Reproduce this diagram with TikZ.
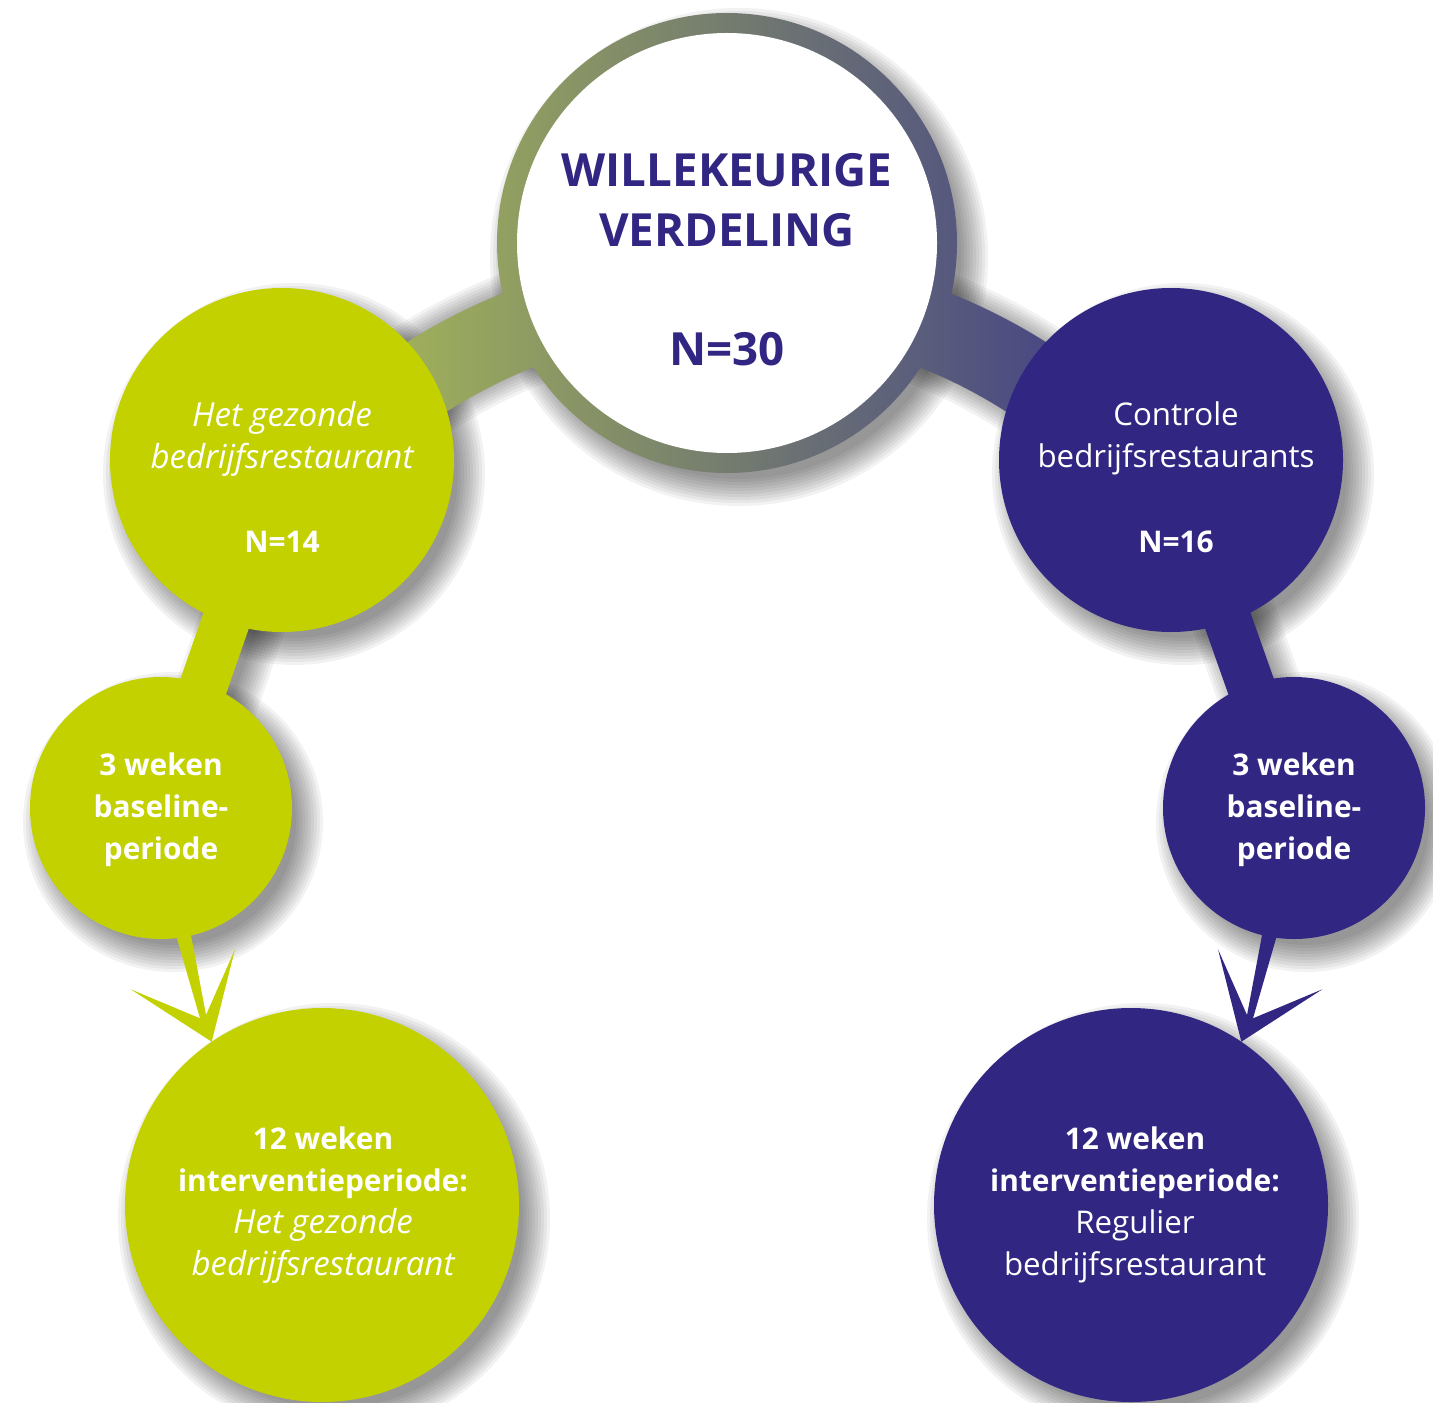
\documentclass[tikz,border=0pt]{standalone}
\usepackage{fontspec}
\setmainfont{Open Sans}
\usetikzlibrary{calc}
\definecolor{lime}{HTML}{C3D100}
\definecolor{indigo}{HTML}{312783}
\definecolor{ringL}{HTML}{B1C552}
\definecolor{ringR}{HTML}{37338C}
\newcommand\bigtxt{\fontsize{13}{17}\selectfont\bfseries}
\newcommand\rmtxt{\fontsize{8.9}{12}\selectfont}
\newcommand\bftxt{\fontsize{8.5}{12}\selectfont\bfseries}
\newcommand\ittxt{\fontsize{9.4}{12}\selectfont\itshape}
\begin{document}
\begin{tikzpicture}[
  disc/.style={circle, inner sep=0pt, minimum size=#1},
  label text/.style={align=center, inner sep=0pt, text=white, font=\rmtxt},
  shadowfill/.style={black, opacity=0.05},
]
\useasboundingbox (0,0) rectangle (14.33,14.02);

% centre of the large arc that carries the two upper bands
\coordinate (bc) at (7.265,5.52);

% soft drop shadows under all shapes, cast to the lower right
\begin{scope}[shift={(0.12,-0.14)}]
  \foreach \s in {-0.08,-0.05,-0.02,0.01,0.04,0.07,0.10,0.13,0.16,0.19} {
    \pgfmathsetmacro\bw{0.80+2*\s}
    \pgfmathsetmacro\sw{0.48+2*\s}
    \fill[shadowfill] (7.27,11.59) circle[radius=2.30+\s];
    \fill[shadowfill] (2.82,9.42) circle[radius=1.72+\s];
    \fill[shadowfill] (11.71,9.42) circle[radius=1.72+\s];
    \fill[shadowfill] (1.61,5.94) circle[radius=1.31+\s];
    \fill[shadowfill] (12.94,5.94) circle[radius=1.31+\s];
    \fill[shadowfill] (3.22,1.97) circle[radius=1.97+\s];
    \fill[shadowfill] (11.31,1.97) circle[radius=1.97+\s];
    \draw[shadowfill, line width=\bw cm] ($(bc)+(130:5.6)$) arc[start angle=130, end angle=50, radius=5.6];
    \draw[shadowfill, line width=\sw cm] (2.82,9.42) -- (1.61,5.94);
    \draw[shadowfill, line width=\sw cm] (11.71,9.42) -- (12.94,5.94);
  }
\end{scope}

% circle nodes
\node[disc=4.60cm] (C0) at (7.27,11.59) {};
\node[disc=3.44cm] (L1) at (2.82,9.42) {};
\node[disc=3.44cm] (R1) at (11.71,9.42) {};
\node[disc=2.62cm] (L2) at (1.61,5.94) {};
\node[disc=2.62cm] (R2) at (12.94,5.94) {};
\node[disc=3.94cm] (L3) at (3.22,1.97) {};
\node[disc=3.94cm] (R3) at (11.31,1.97) {};

% gradient ring with the curved band to both upper circles
\shade[left color=ringL, right color=ringR]
  (C0.center) circle[radius=2.30]
  ($(bc)+(40:6)$) arc[start angle=40, end angle=140, radius=6]
  -- ($(bc)+(140:5.2)$) arc[start angle=140, end angle=40, radius=5.2] -- cycle;
\fill[white] (C0.center) circle[radius=2.10];

% straight bands to the baseline circles
\draw[lime, line width=0.48cm] (L1.center) -- (L2.center);
\draw[indigo, line width=0.48cm] (R1.center) -- (R2.center);

% arrows to the intervention circles
\begin{scope}
  \coordinate (s1) at (1.659,5.02);
  \coordinate (s2) at (1.844,5.02);
  \coordinate (nl) at (2.000,3.837);
  \coordinate (nr) at (2.060,3.870);
  \coordinate (bl) at (1.307,4.127);
  \coordinate (br) at (2.350,4.527);
  \coordinate (tp) at (2.117,3.603);
  \fill[lime] (s1) -- (nl) -- (bl) -- (tp) -- (br) -- (nr) -- (s2) -- cycle;
\end{scope}
\begin{scope}[xshift=14.53cm, xscale=-1]
  \coordinate (t1) at (1.659,5.02);
  \coordinate (t2) at (1.844,5.02);
  \coordinate (ml) at (2.000,3.837);
  \coordinate (mr) at (2.060,3.870);
  \coordinate (cl) at (1.307,4.127);
  \coordinate (cr) at (2.350,4.527);
  \coordinate (tq) at (2.117,3.603);
  \fill[indigo] (t1) -- (ml) -- (cl) -- (tq) -- (cr) -- (mr) -- (t2) -- cycle;
\end{scope}

% filled discs
\fill[lime] (L1.center) circle[radius=1.72];
\fill[indigo] (R1.center) circle[radius=1.72];
\fill[lime] (L2.center) circle[radius=1.31];
\fill[indigo] (R2.center) circle[radius=1.31];
\fill[lime] (L3.center) circle[radius=1.97];
\fill[indigo] (R3.center) circle[radius=1.97];

% texts
\node[align=center, text=indigo, font=\bigtxt] (C0t) at (7.27,11.42)
  {WILLEKEURIGE\\VERDELING\\[17pt]N=30};
\node[label text] (L1t) at (2.82,9.25)
  {{\ittxt Het gezonde}\\{\ittxt bedrijfsrestaurant}\\[12pt]{\bftxt N=14}};
\node[label text] (R1t) at (11.76,9.25)
  {Controle\\bedrijfsrestaurants\\[12pt]{\bftxt N=16}};
\node[label text, font=\bftxt] (L2t) at (1.61,5.92)
  {3 weken\\baseline-\\periode};
\node[label text, font=\bftxt] (R2t) at (12.94,5.92)
  {3 weken\\baseline-\\periode};
\node[label text] (L3t) at (3.23,1.97)
  {{\bftxt 12 weken}\\{\bftxt interventieperiode:}\\{\ittxt Het gezonde}\\{\ittxt bedrijfsrestaurant}};
\node[label text] (R3t) at (11.35,1.97)
  {{\bftxt 12 weken}\\{\bftxt interventieperiode:}\\Regulier\\bedrijfsrestaurant};
\end{tikzpicture}
\end{document}
